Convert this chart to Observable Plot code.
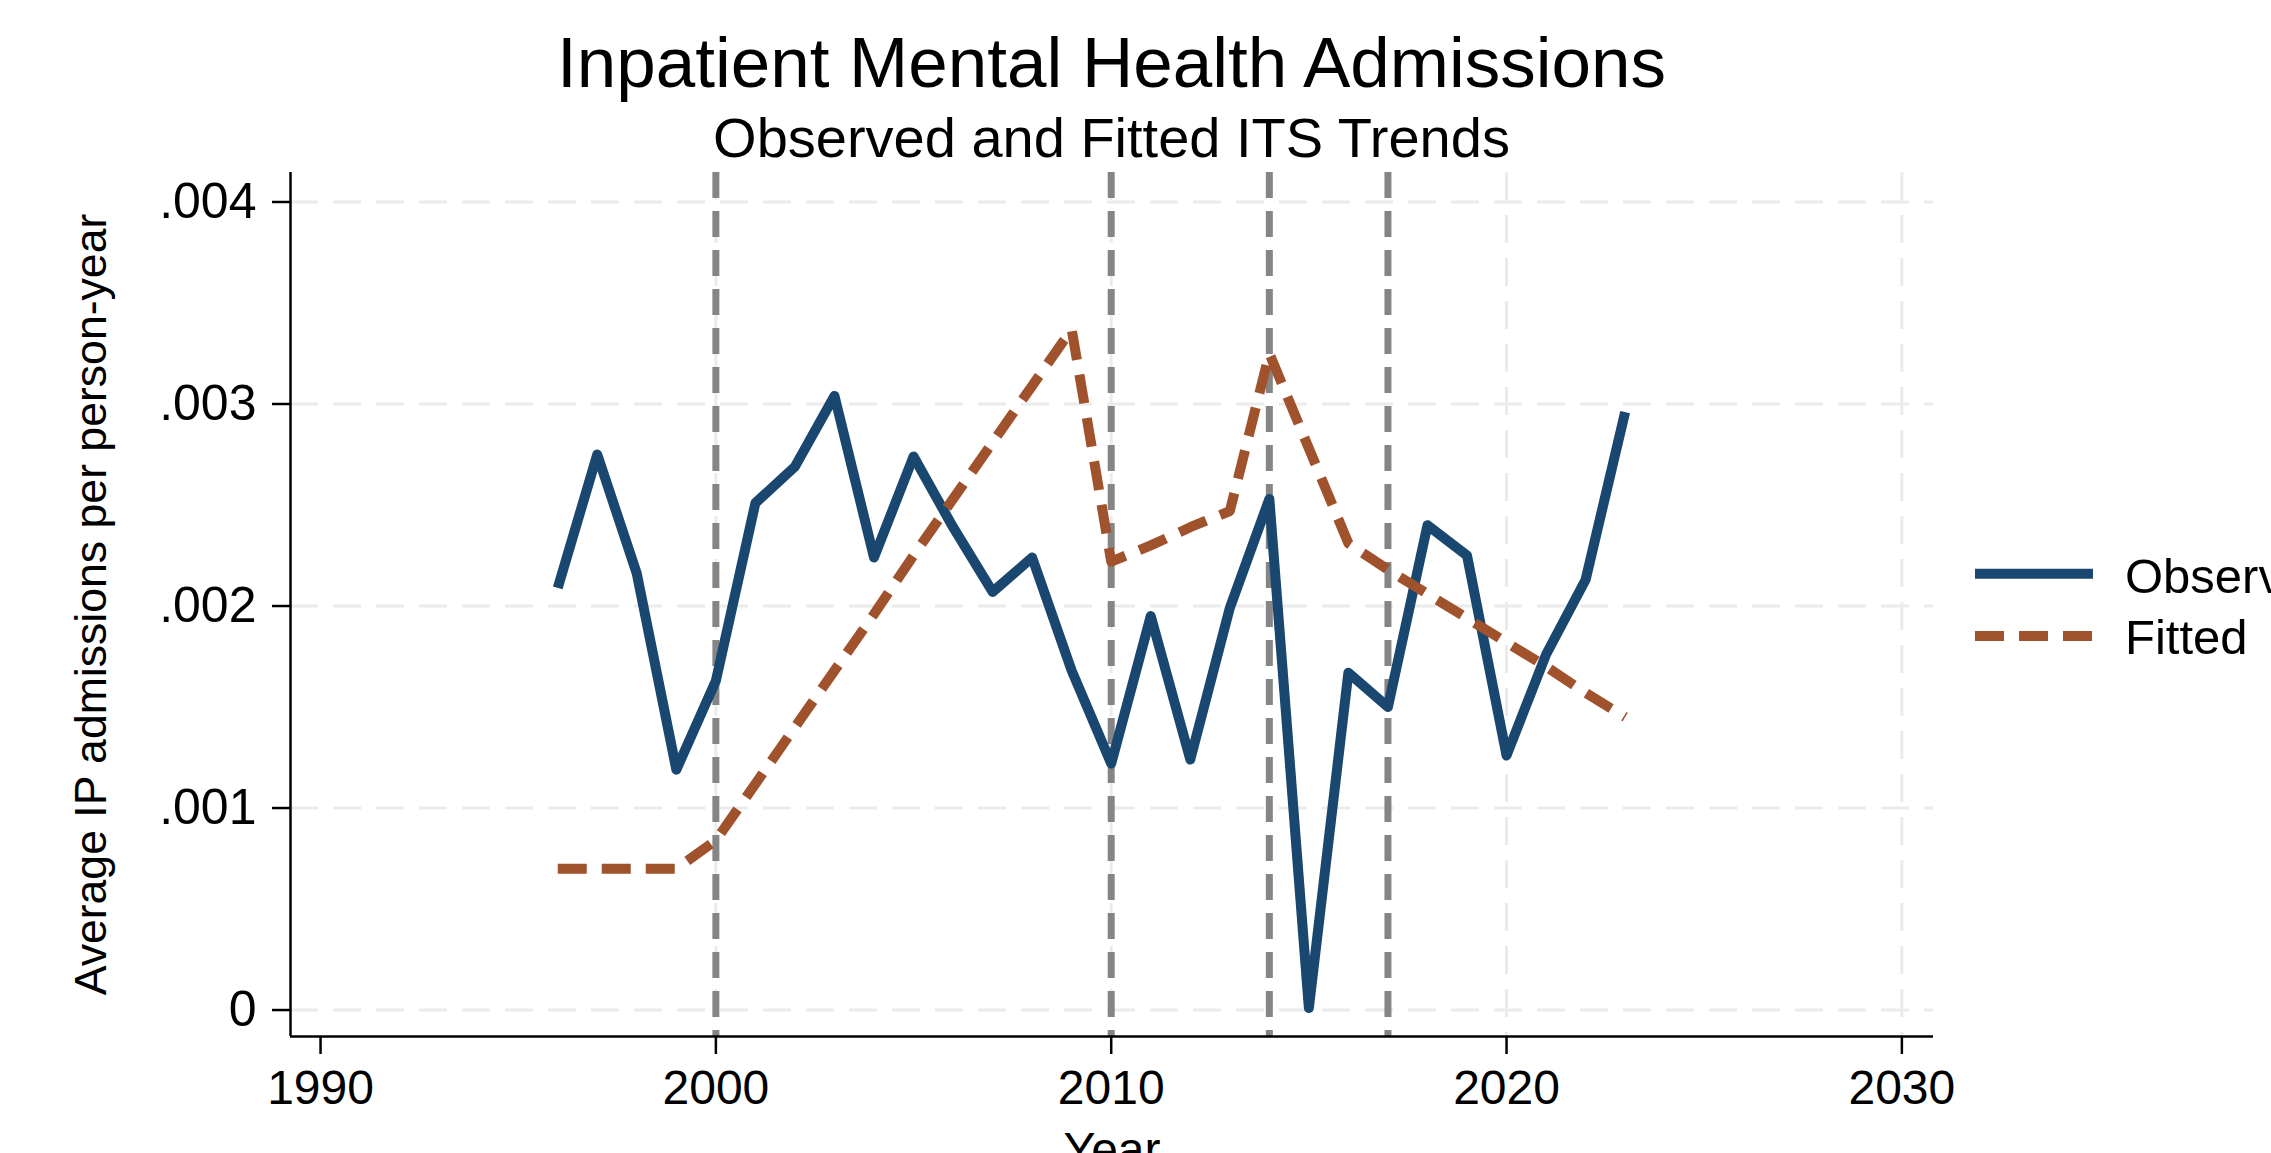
<!DOCTYPE html>
<html><head><meta charset="utf-8">
<script src="https://cdn.jsdelivr.net/npm/d3@7"></script>
<script src="https://cdn.jsdelivr.net/npm/@observablehq/plot@0.6"></script>
<style>
html,body{margin:0;padding:0;background:#fff;overflow:hidden;width:2271px;height:1153px}
body{position:relative;font-family:"Liberation Sans",Arial,Helvetica,sans-serif;color:#000}
#header{position:relative;height:160px;width:2271px}
.t{position:absolute;left:290px;width:1643px;text-align:center;line-height:1;white-space:nowrap;color:#000}
#legend{position:absolute;left:1960px;top:540px;overflow:visible}
#chart svg{display:block}
</style></head><body>
<div id="header">
  <div class="t" id="title" style="top:27px;font-size:71px"></div>
  <div class="t" id="subtitle" style="top:110px;font-size:56px"></div>
</div>
<div id="chart"></div>
<svg id="legend" width="311" height="140"></svg>
<script>
const titleText = "Inpatient Mental Health Admissions";
const subtitleText = "Observed and Fitted ITS Trends";
const yTitle = "Average IP admissions per person-year";
const xTitle = "Year";
const seriesNames = ["Observed", "Fitted"];

const years = [1996, 1997, 1998, 1999, 2000, 2001, 2002, 2003, 2004, 2005, 2006, 2007, 2008, 2009,
               2010, 2011, 2012, 2013, 2014, 2015, 2016, 2017, 2018, 2019, 2020, 2021, 2022, 2023];
const observed = [0.00209, 0.00275, 0.00216, 0.00119, 0.00163, 0.00251, 0.00269, 0.00304, 0.00224, 0.00274,
                  0.00239, 0.00207, 0.00224, 0.00168, 0.00122, 0.00195, 0.00124, 0.00199, 0.00253, 0.00001,
                  0.00167, 0.00150, 0.00240, 0.00225, 0.00126, 0.00176, 0.00213, 0.00296];
const fitted = [0.00070, 0.00070, 0.00070, 0.00070, 0.00084, 0.00112, 0.00140, 0.00168, 0.00196, 0.00225,
                0.00253, 0.00281, 0.00309, 0.00337, 0.00222, 0.00230, 0.00239, 0.00247, 0.00325, 0.00278,
                0.00231, 0.00218, 0.00206, 0.00194, 0.00182, 0.00170, 0.00157, 0.00145];
const interventionYears = [2000, 2010, 2014, 2017];
const xTicks = [1990, 2000, 2010, 2020, 2030];
const xTickLabels = ["1990", "2000", "2010", "2020", "2030"];
const xGridTicks = [2000, 2010, 2020, 2030];
const yTicks = [0, 0.001, 0.002, 0.003, 0.004];
const yTickLabels = ["0", ".001", ".002", ".003", ".004"];

const colObs = "#1a476f", colFit = "#a0522d";
const font = '"Liberation Sans", Arial, Helvetica, sans-serif';

document.getElementById("title").textContent = titleText;
document.getElementById("subtitle").textContent = subtitleText;

const data = years.map((y, i) => ({year: y, observed: observed[i], fitted: fitted[i]}));
const xDomain = [1989.24, 2030.8];
const yDomain = [-0.000131, 0.004146];

const chart = Plot.plot({
  width: 2271, height: 1040,
  marginLeft: 290, marginRight: 338, marginTop: 12, marginBottom: 164,
  x: {domain: xDomain},
  y: {domain: yDomain},
  style: {fontFamily: font, fontSize: "48px", color: "#000", background: "#fff", overflow: "visible"},
  marks: [
    Plot.gridY(yTicks, {stroke: "#ebebeb", strokeOpacity: 1, strokeWidth: 3, strokeDasharray: "28,15"}),
    Plot.gridX(xGridTicks, {stroke: "#ebebeb", strokeOpacity: 1, strokeWidth: 3, strokeDasharray: "28,15"}),
    Plot.ruleX(interventionYears, {stroke: "#858585", strokeWidth: 7, strokeDasharray: "26,13"}),
    Plot.line(data, {x: "year", y: "observed", stroke: colObs, strokeWidth: 10, strokeLinejoin: "round", strokeLinecap: "butt"}),
    Plot.line(data, {x: "year", y: "fitted", stroke: colFit, strokeWidth: 10, strokeDasharray: "29,15", strokeLinecap: "butt"}),
    Plot.ruleX([xDomain[0]], {stroke: "#000", strokeWidth: 2.5}),
    Plot.ruleY([yDomain[0]], {stroke: "#000", strokeWidth: 2.5}),
    Plot.axisX(xTicks, {tickSize: 18, tickPadding: 15, strokeWidth: 2.5, fontSize: 48,
      tickFormat: d => xTickLabels[xTicks.indexOf(d)], label: null}),
    Plot.axisY(yTicks, {tickSize: 18, tickPadding: 16, strokeWidth: 2.5, fontSize: 50,
      tickFormat: d => yTickLabels[yTicks.indexOf(d)], label: null}),
    Plot.text([yTitle], {frameAnchor: "left", dx: -199, rotate: -90, text: d => d, fontSize: 44.6, textAnchor: "middle", lineAnchor: "middle"}),
    Plot.text([xTitle], {frameAnchor: "bottom", dy: 95, text: d => d, fontSize: 48, lineAnchor: "top"})
  ]
});
document.getElementById("chart").appendChild(chart);

// legend (outside the plot frame, to the right)
const lg = d3.select("#legend");
const rows = [
  {name: seriesNames[0], color: colObs, dash: null, y: 33.7, base: 52.7},
  {name: seriesNames[1], color: colFit, dash: "29,15", y: 96, base: 114}
];
rows.forEach(r => {
  lg.append("line").attr("x1", 15).attr("x2", 133).attr("y1", r.y).attr("y2", r.y)
    .attr("stroke", r.color).attr("stroke-width", 10)
    .attr("stroke-dasharray", r.dash);
  lg.append("text").attr("x", 165).attr("y", r.base).text(r.name)
    .attr("font-family", font).attr("font-size", 49).attr("fill", "#000");
});
</script>
</body></html>
